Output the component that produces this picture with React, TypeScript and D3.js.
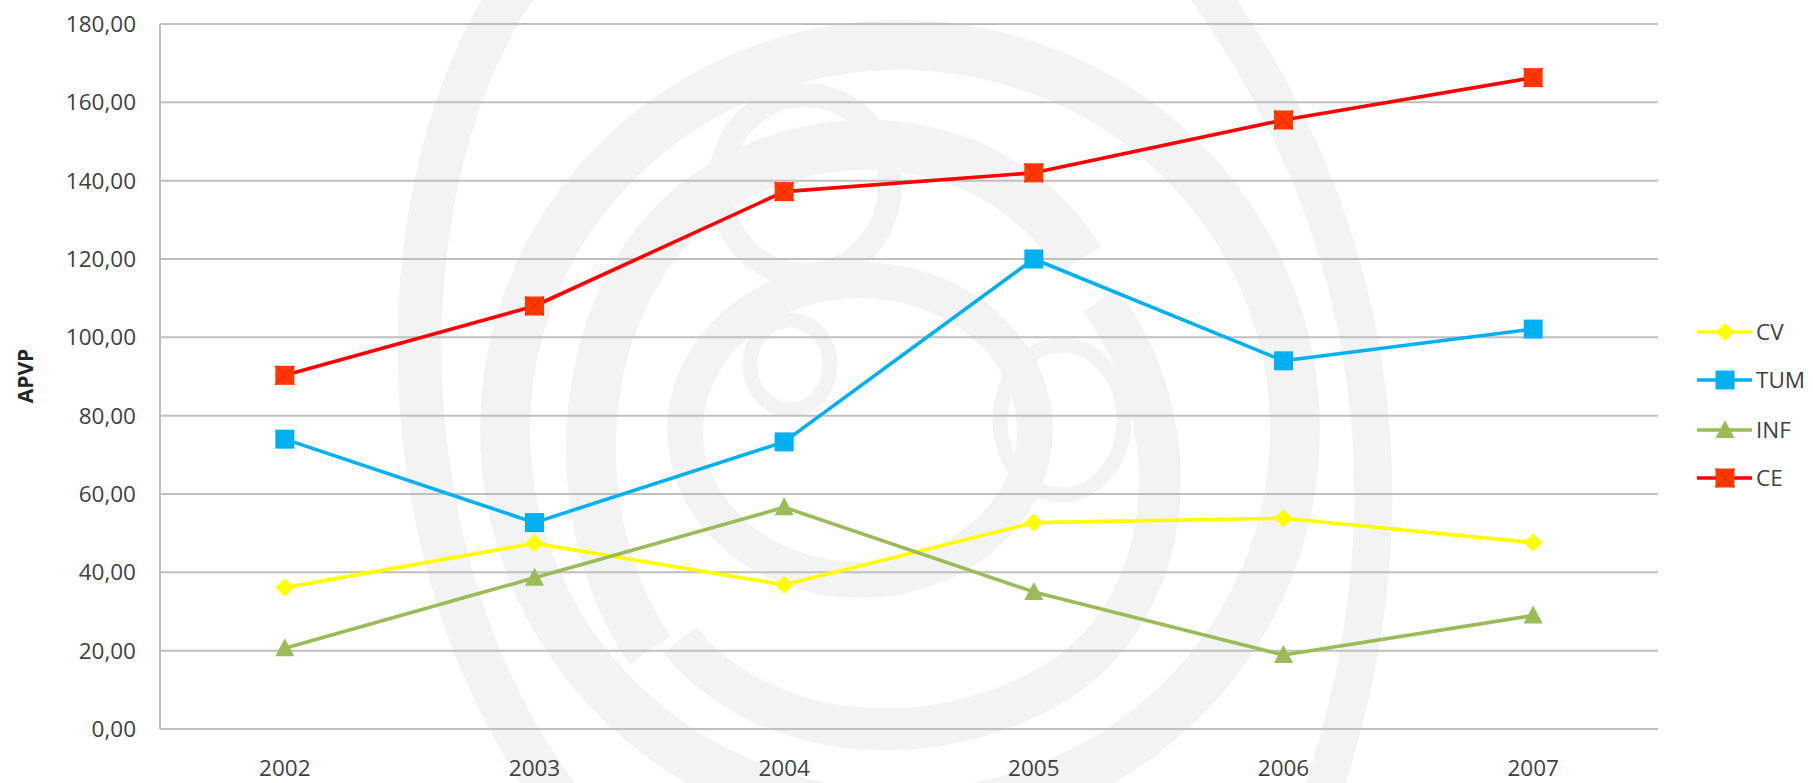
import React from "react";
import * as d3 from "d3";

const years = ["2002", "2003", "2004", "2005", "2006", "2007"];
const cvValues = [36.1, 47.4, 36.8, 52.7, 53.8, 47.6];
const tumValues = [74.0, 52.7, 73.3, 120.0, 94.0, 102.1];
const infValues = [20.6, 38.6, 56.6, 35.0, 18.9, 29.0];
const ceValues = [90.3, 108.0, 137.2, 142.0, 155.5, 166.3];
const seriesNames = ["CV", "TUM", "INF", "CE"];
const yTicks = [0, 20, 40, 60, 80, 100, 120, 140, 160, 180];

const W = 1813;
const H = 783;
const FONT = "'Open Sans', 'Noto Sans', sans-serif";

const locale = d3.formatLocale({ decimal: ",", thousands: ".", grouping: [3], currency: ["", "€"] });
const fmt = locale.format(".2f");

type Marker = "diamond" | "square" | "triangle" | "squareX";

const series: { name: string; values: number[]; color: string; fill: string; marker: Marker }[] = [
  { name: seriesNames[0], values: cvValues, color: "#FFFF00", fill: "#FFFF00", marker: "diamond" },
  { name: seriesNames[1], values: tumValues, color: "#00B0F0", fill: "#00B0F0", marker: "square" },
  { name: seriesNames[2], values: infValues, color: "#9BBB59", fill: "#9BBB59", marker: "triangle" },
  { name: seriesNames[3], values: ceValues, color: "#FF0000", fill: "#FF3A00", marker: "squareX" },
];

function MarkerShape({ type, x, y, fill }: { type: Marker; x: number; y: number; fill: string }) {
  if (type === "diamond") {
    const w = 9.5, h = 9;
    return <path d={`M${x},${y - h}L${x + w},${y}L${x},${y + h}L${x - w},${y}Z`} fill={fill} />;
  }
  if (type === "triangle") {
    const w = 9.5;
    return <path d={`M${x},${y - 10}L${x + w},${y + 8}L${x - w},${y + 8}Z`} fill={fill} />;
  }
  const s = 9.5;
  return (
    <g>
      <rect x={x - s} y={y - s} width={s * 2} height={s * 2} fill={fill} />
      {type === "squareX" && (
        <path
          d={`M${x - s},${y - s}L${x + s},${y + s}M${x + s},${y - s}L${x - s},${y + s}`}
          stroke="#F52500"
          strokeWidth={1.2}
        />
      )}
    </g>
  );
}

export default function App() {
  const left = 160, right = 1658, top = 24, bottom = 729;
  const x = d3.scalePoint<string>().domain(years).range([left, right]).padding(0.5);
  const y = d3.scaleLinear().domain([0, 180]).range([bottom, top]);
  const line = d3
    .line<number>()
    .x((_, i) => x(years[i]) as number)
    .y((d) => y(d));

  const wm = "#F3F3F3";
  const legendY = [332, 380, 430, 478];

  return (
    <svg
      width={W}
      height={H}
      style={{ position: "absolute", left: 0, top: 0, background: "#fff" }}
      fontFamily={FONT}
    >
      <rect x={0} y={0} width={W} height={H} fill="#fff" />
      {/* watermark swirl */}
      <g fill="none" stroke={wm} strokeLinecap="butt">
        <path d="M520,-20 C380,180 380,560 560,800" strokeWidth={44} />
        <path d="M1200,-20 C1360,200 1430,480 1320,800" strokeWidth={38} />
        <ellipse cx={900} cy={430} rx={395} ry={385} strokeWidth={50} />
        <path d="M650,650 C560,520 570,300 700,200 C820,110 1000,130 1080,260" strokeWidth={50} />
        <path d="M1100,300 C1190,420 1180,600 1060,680 C930,760 760,740 680,640" strokeWidth={42} />
        <ellipse cx={805} cy={185} rx={85} ry={90} strokeWidth={24} />
        <ellipse cx={860} cy={430} rx={175} ry={150} strokeWidth={36} />
        <ellipse cx={790} cy={365} rx={40} ry={45} strokeWidth={15} />
        <ellipse cx={1062} cy={420} rx={62} ry={75} strokeWidth={15} />
      </g>

      {/* gridlines */}
      {yTicks.map((t) => (
        <line key={t} x1={left} x2={right} y1={y(t)} y2={y(t)} stroke="#BFBFBF" strokeWidth={2} />
      ))}
      <line x1={left} x2={left} y1={top} y2={bottom} stroke="#BFBFBF" strokeWidth={2} />

      {/* y tick labels */}
      {yTicks.map((t) => (
        <text key={t} x={136} y={y(t)} dy="0.36em" textAnchor="end" fontSize={22.5} fill="#404040">
          {fmt(t)}
        </text>
      ))}

      {/* x labels */}
      {years.map((yr) => (
        <text key={yr} x={x(yr)} y={776} textAnchor="middle" fontSize={22.5} fill="#404040">
          {yr}
        </text>
      ))}

      {/* y title */}
      <text
        transform="translate(33,376) rotate(-90)"
        textAnchor="middle"
        fontSize={21}
        fontWeight="bold"
        fill="#262626"
      >
        APVP
      </text>

      {/* series */}
      {series.map((s) => (
        <g key={s.name}>
          <path d={line(s.values) as string} fill="none" stroke={s.color} strokeWidth={3.6} strokeLinejoin="round" />
          {s.values.map((v, i) => (
            <MarkerShape key={i} type={s.marker} x={x(years[i]) as number} y={y(v)} fill={s.fill} />
          ))}
        </g>
      ))}

      {/* legend */}
      {series.map((s, i) => (
        <g key={s.name}>
          <line x1={1697} x2={1752} y1={legendY[i]} y2={legendY[i]} stroke={s.color} strokeWidth={3.6} />
          <MarkerShape type={s.marker} x={1725} y={legendY[i]} fill={s.fill} />
          <text x={1756} y={legendY[i]} dy="0.36em" fontSize={22.5} fill="#404040">
            {s.name}
          </text>
        </g>
      ))}
    </svg>
  );
}
